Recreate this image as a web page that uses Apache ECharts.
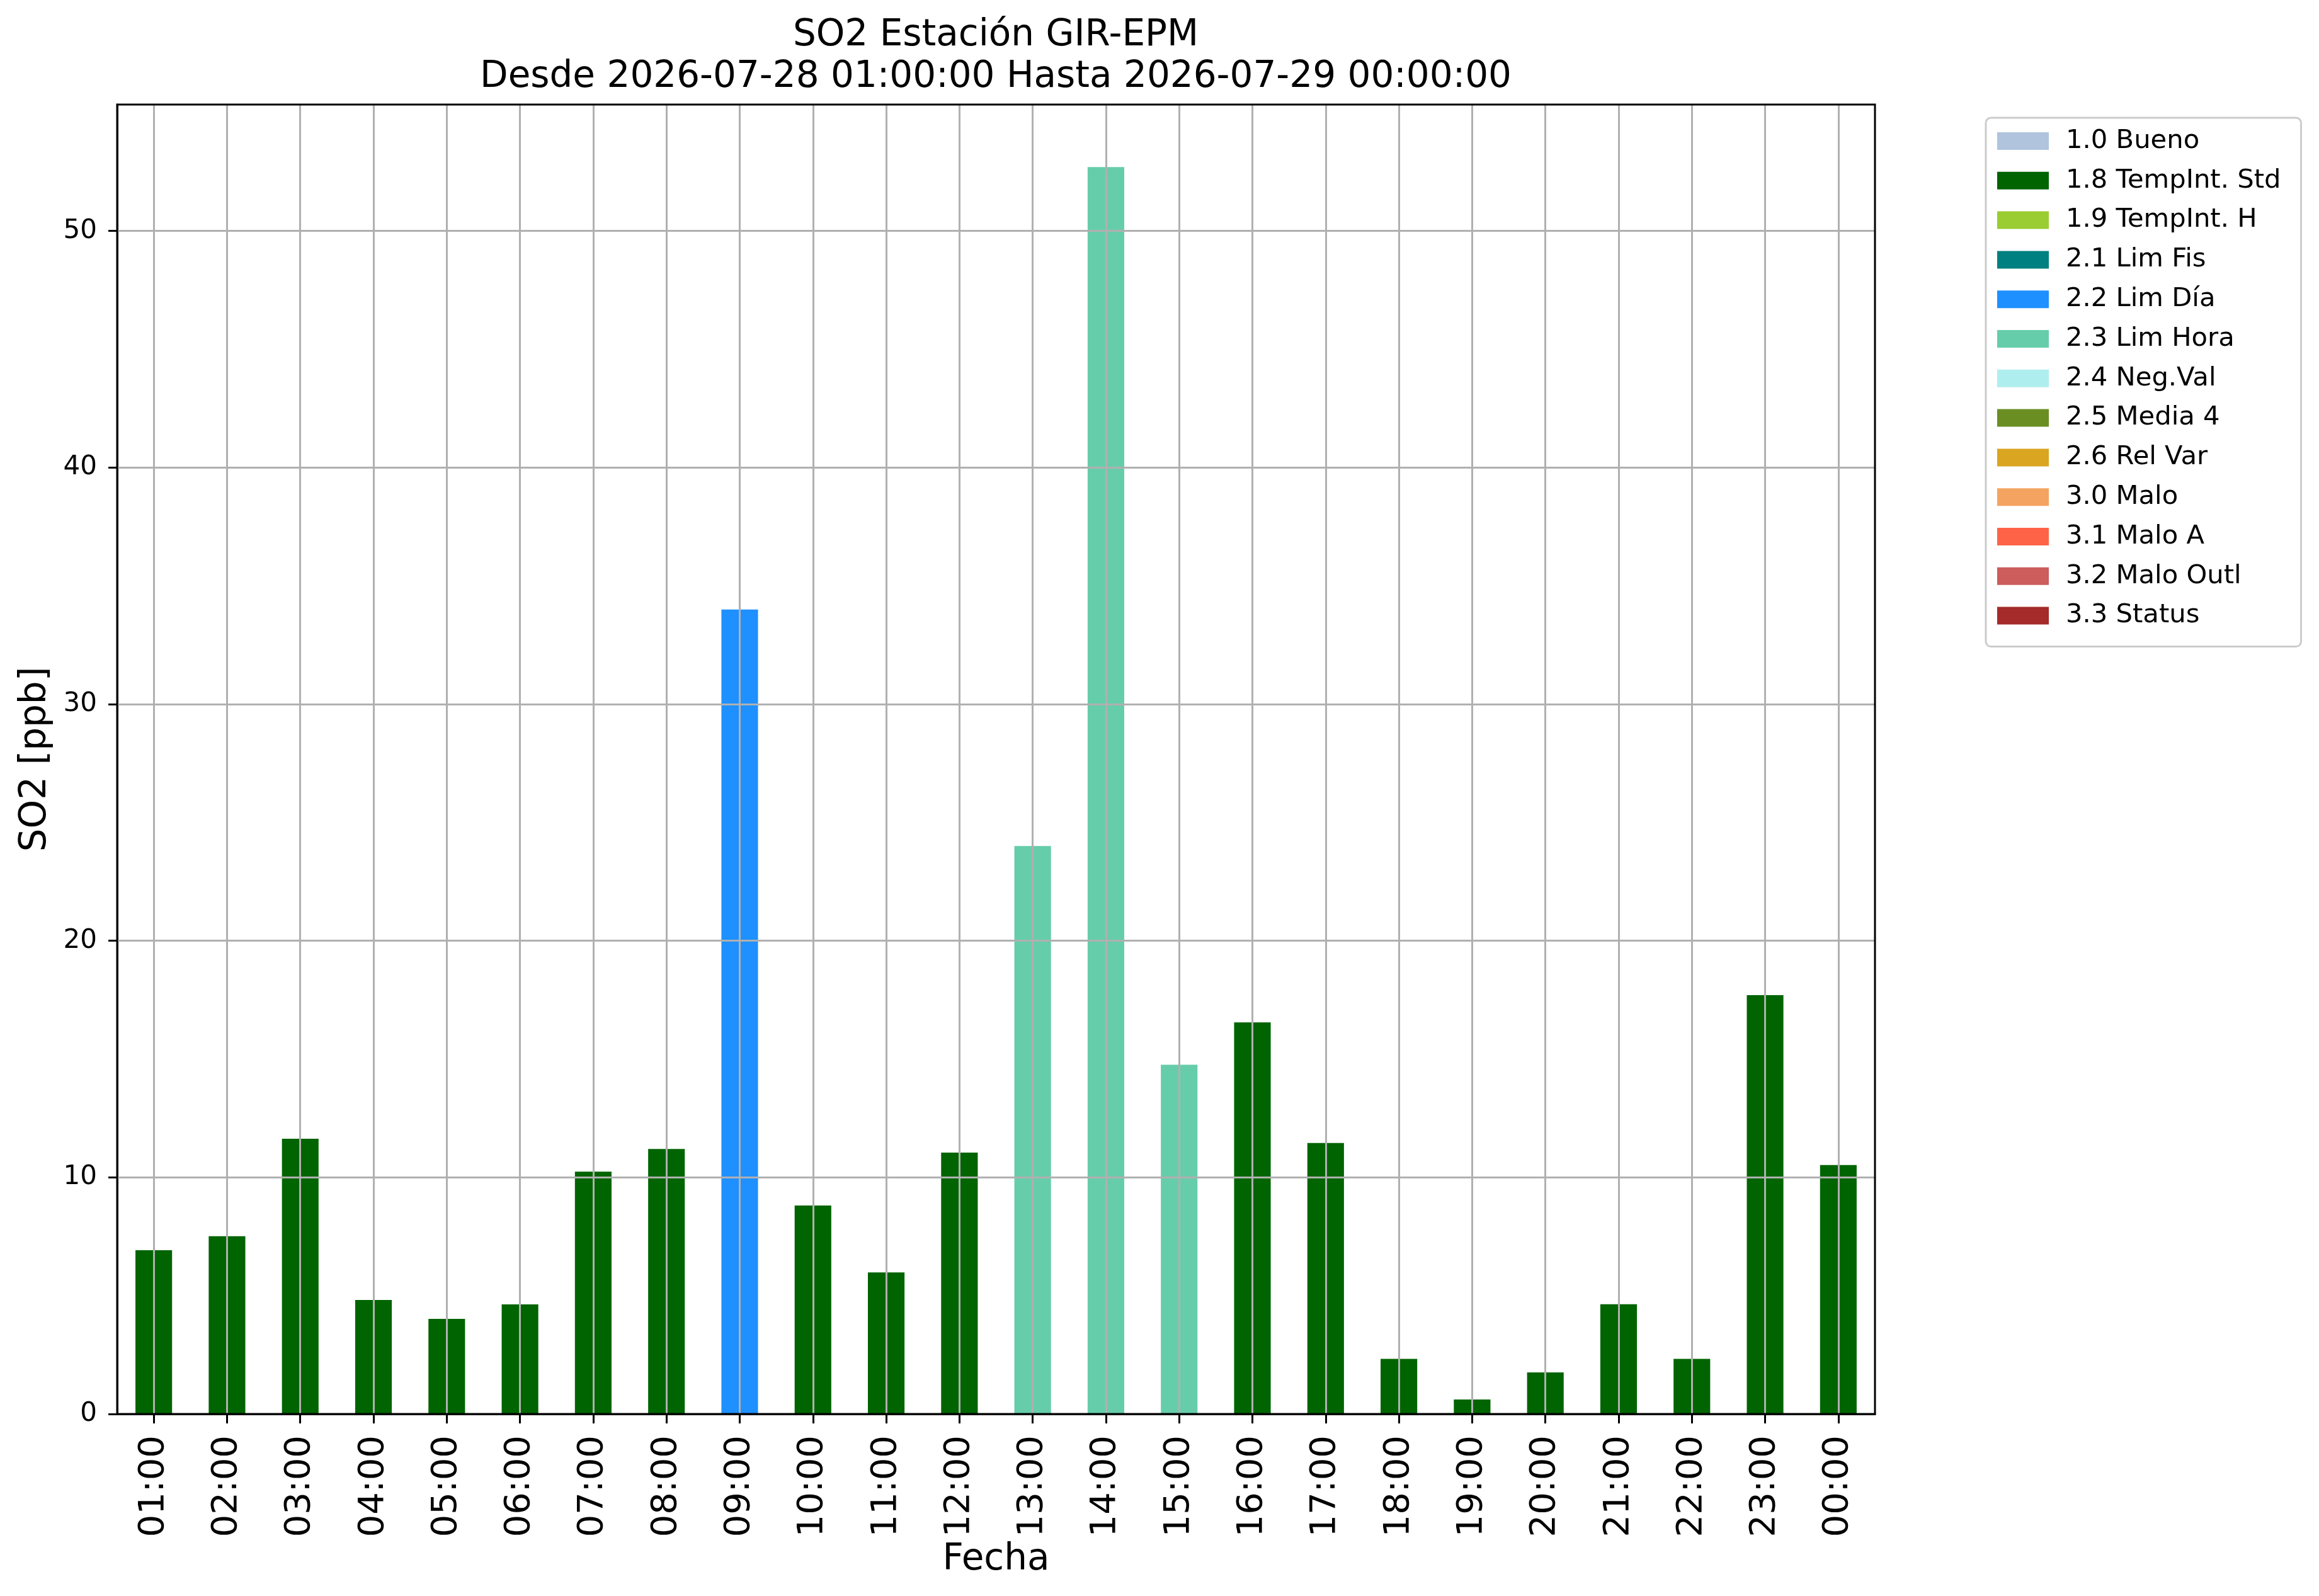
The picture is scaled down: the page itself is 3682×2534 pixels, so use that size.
<!DOCTYPE html>
<html>
<head>
<meta charset="utf-8">
<script src="https://cdn.jsdelivr.net/npm/echarts@6/dist/echarts.min.js"></script>
<style>
html,body{margin:0;padding:0;background:#fff;}
#chart{width:3682px;height:2534px;}
</style>
</head>
<body>
<div id="chart"></div>
<script>
const hours = ['01:00','02:00','03:00','04:00','05:00','06:00','07:00','08:00','09:00','10:00','11:00','12:00',
               '13:00','14:00','15:00','16:00','17:00','18:00','19:00','20:00','21:00','22:00','23:00','00:00'];
const so2Values = [6.92, 7.51, 11.63, 4.82, 4.02, 4.63, 10.24, 11.2, 34.0, 8.81, 5.98, 11.05,
                   24.0, 52.7, 14.76, 16.55, 11.45, 2.33, 0.61, 1.76, 4.64, 2.33, 17.7, 10.52];
const barFlags = ['1.8','1.8','1.8','1.8','1.8','1.8','1.8','1.8','2.2','1.8','1.8','1.8',
                  '2.3','2.3','2.3','1.8','1.8','1.8','1.8','1.8','1.8','1.8','1.8','1.8'];
const flagCodes = ['1.0','1.8','1.9','2.1','2.2','2.3','2.4','2.5','2.6','3.0','3.1','3.2','3.3'];
const flagNames = ['1.0 Bueno','1.8 TempInt. Std','1.9 TempInt. H','2.1 Lim Fis','2.2 Lim Día','2.3 Lim Hora',
                   '2.4 Neg.Val','2.5 Media 4','2.6 Rel Var','3.0 Malo','3.1 Malo A','3.2 Malo Outl','3.3 Status'];
const flagColors = ['#B0C4DE','#006400','#9ACD32','#008080','#1E90FF','#66CDAA',
                    '#AFEEEE','#6B8E23','#DAA520','#F4A460','#FF6347','#CD5C5C','#A52A2A'];
const yTicks = [0, 10, 20, 30, 40, 50];
const yMax = 55.34;

const FONT = 'DejaVu Sans';

const series = flagCodes.map((code, k) => ({
  name: flagNames[k],
  type: 'bar',
  stack: 'total',
  barWidth: '50%',
  z: 2,
  itemStyle: { color: flagColors[k] },
  data: so2Values.map((v, i) => barFlags[i] === code ? v : null)
}));

// grid lines drawn above the bars (as in the reference), at category centres and y ticks
series[0].markLine = {
  silent: true,
  symbol: ['none', 'none'],
  animation: false,
  z: 4,
  label: { show: false },
  emphasis: { disabled: true },
  lineStyle: { color: '#b0b0b0', width: 3, type: 'solid' },
  data: hours.map(h => ({ xAxis: h })).concat(yTicks.filter(v => v > 0).map(v => ({ yAxis: v })))
};

const chart = echarts.init(document.getElementById('chart'), null, { renderer: 'canvas' });
chart.setOption({
  backgroundColor: '#ffffff',
  animation: false,
  title: {
    text: 'SO2 Estación GIR-EPM\nDesde 2026-07-28 01:00:00 Hasta 2026-07-29 00:00:00',
    left: 1581,
    top: 24,
    padding: 0,
    textAlign: 'center',
    textStyle: { fontFamily: FONT, fontSize: 58, fontWeight: 'normal', color: '#000', lineHeight: 66 }
  },
  legend: {
    orient: 'vertical',
    left: 3153,
    top: 187,
    padding: [16, 32, 28, 18],
    itemWidth: 82,
    itemHeight: 28,
    itemGap: 20.8,
    icon: 'rect',
    borderColor: '#cccccc',
    borderWidth: 3,
    borderRadius: 8,
    backgroundColor: '#ffffff',
    textStyle: { fontFamily: FONT, fontSize: 41.7, color: '#000', lineHeight: 42, padding: [0, 0, 0, 22] },
    data: flagNames
  },
  grid: {
    left: 186,
    right: 705,
    top: 166,
    bottom: 289,
    show: true,
    borderColor: '#000',
    borderWidth: 3,
    backgroundColor: 'transparent',
    containLabel: false,
    z: 5
  },
  xAxis: {
    type: 'category',
    data: hours,
    boundaryGap: true,
    name: 'Fecha',
    nameLocation: 'middle',
    nameGap: 196,
    nameTextStyle: { fontFamily: FONT, fontSize: 58, color: '#000' },
    axisLine: { show: true, lineStyle: { color: '#000', width: 3 } },
    axisTick: { show: true, alignWithLabel: true, interval: 0, length: 15, lineStyle: { color: '#000', width: 3 } },
    axisLabel: { interval: 0, rotate: 90, margin: 34, fontFamily: FONT, fontSize: 56, color: '#000' },
    splitLine: { show: false }
  },
  yAxis: {
    type: 'value',
    min: 0,
    max: yMax,
    interval: 10,
    name: 'SO2 [ppb]',
    nameLocation: 'middle',
    nameGap: 100,
    nameTextStyle: { fontFamily: FONT, fontSize: 58, color: '#000' },
    axisLine: { show: true, lineStyle: { color: '#000', width: 3 } },
    axisTick: { show: true, length: 14, customValues: yTicks, lineStyle: { color: '#000', width: 3 } },
    axisLabel: {
      margin: 32, fontFamily: FONT, fontSize: 42, color: '#000',
      customValues: yTicks,
      formatter: v => yTicks.indexOf(v) >= 0 ? String(v) : ''
    },
    splitLine: { show: false }
  },
  series: series
});
</script>
</body>
</html>
